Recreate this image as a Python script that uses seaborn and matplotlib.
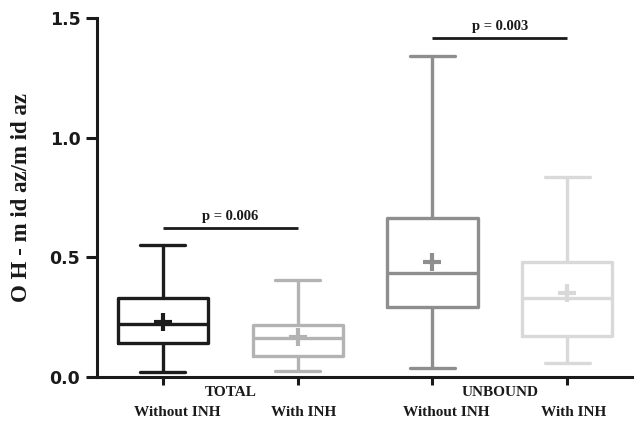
import numpy as np
import pandas as pd
import matplotlib
matplotlib.use("Agg")
import matplotlib.pyplot as plt
import matplotlib.transforms as mtransforms
import seaborn as sns

# Five-number summaries and means of the OH-midazolam / midazolam ratio
fractions = ["TOTAL", "TOTAL", "UNBOUND", "UNBOUND"]
treatments = ["Without INH", "With INH", "Without INH", "With INH"]
minimum = [0.022, 0.026, 0.039, 0.057]
q1 = [0.141, 0.089, 0.291, 0.171]
median = [0.220, 0.162, 0.433, 0.328]
q3 = [0.328, 0.217, 0.663, 0.481]
maximum = [0.551, 0.405, 1.340, 0.836]
mean = [0.228, 0.168, 0.481, 0.352]
colors = ["#1c1c1c", "#b3b3b3", "#8e8e8e", "#d9d9d9"]

# Paired comparisons (group indices) with their p-values and bar heights
pairs = [(0, 1), (2, 3)]
p_labels = ["p = 0.006", "p = 0.003"]
p_heights = [0.623, 1.417]

keys = [f"{f} {t}" for f, t in zip(fractions, treatments)]

# Long-form table whose quartiles/extremes reproduce each summary exactly
rows = []
for k, lo, a, m, b, hi in zip(keys, minimum, q1, median, q3, maximum):
    for v in (lo, a, m, b, hi):
        rows.append({"group": k, "value": v})
df = pd.DataFrame(rows)
df_mean = pd.DataFrame({"group": keys, "mean": mean})

sns.set_style("ticks")
plt.rcParams["font.family"] = ["DejaVu Sans"]

fig = plt.figure(figsize=(6.34, 4.24), dpi=100)
ax = fig.add_axes([97 / 634, 1 - 377 / 424, 1 - 97 / 634, (377 - 18) / 424])

sns.boxplot(data=df, x="group", y="value", hue="group", order=keys,
            hue_order=keys, palette=colors, fill=False, width=0.67,
            whis=(0, 100), linewidth=2.4, legend=False, ax=ax)
sns.pointplot(data=df_mean, x="group", y="mean", hue="group", order=keys,
              hue_order=keys, palette=colors, markers="+", linestyle="none",
              markersize=13, markeredgewidth=3.0, errorbar=None,
              legend=False, ax=ax)

serif = dict(family="Liberation Serif", fontweight="bold")

# Significance bars
for (i, j), lab, h in zip(pairs, p_labels, p_heights):
    ax.plot([i, j], [h, h], color="#1a1a1a", lw=2.0, clip_on=False,
            solid_capstyle="butt")
    ax.text((i + j) / 2, h + 0.022, lab, ha="center", va="bottom",
            fontsize=10.5, color="#1a1a1a", **serif)

ax.set_xlim(-0.489, 3.496)
ax.set_ylim(0, 1.5)
ax.set_yticks([0, 0.5, 1.0, 1.5])
ax.set_yticklabels(["0.0", "0.5", "1.0", "1.5"], fontsize=12.5,
                   fontweight="bold", color="#1a1a1a")
ax.set_xticks(range(len(keys)))
ax.set_xticklabels(treatments, fontsize=11, color="#1a1a1a", **serif)
ax.tick_params(axis="y", length=8, width=2.2, pad=4, color="#1a1a1a")
ax.tick_params(axis="x", length=6, width=2.2, pad=15, color="#1a1a1a")

# Treatment labels sit slightly right of their ticks
shifts = {"Without INH": 10, "With INH": 4.5}
for lbl in ax.get_xticklabels():
    dx = shifts.get(lbl.get_text(), 0) / 72
    lbl.set_transform(lbl.get_transform() +
                      mtransforms.ScaledTranslation(dx, 0, fig.dpi_scale_trans))

# Fraction labels centred under each pair
trans = mtransforms.blended_transform_factory(ax.transData, fig.transFigure)
for (i, j) in pairs:
    ax.text((i + j) / 2, 1 - 393 / 424, fractions[i], transform=trans,
            ha="center", va="center", fontsize=11, color="#1a1a1a", **serif)

ax.set_xlabel("")
ax.set_ylabel("O H - m id az/m id az", fontsize=16.5, color="#1a1a1a",
              labelpad=13, **serif)

sns.despine(ax=ax)
for s in ("left", "bottom"):
    ax.spines[s].set_linewidth(2.2)
    ax.spines[s].set_color("#1a1a1a")

fig.savefig("out.png", dpi=100)
